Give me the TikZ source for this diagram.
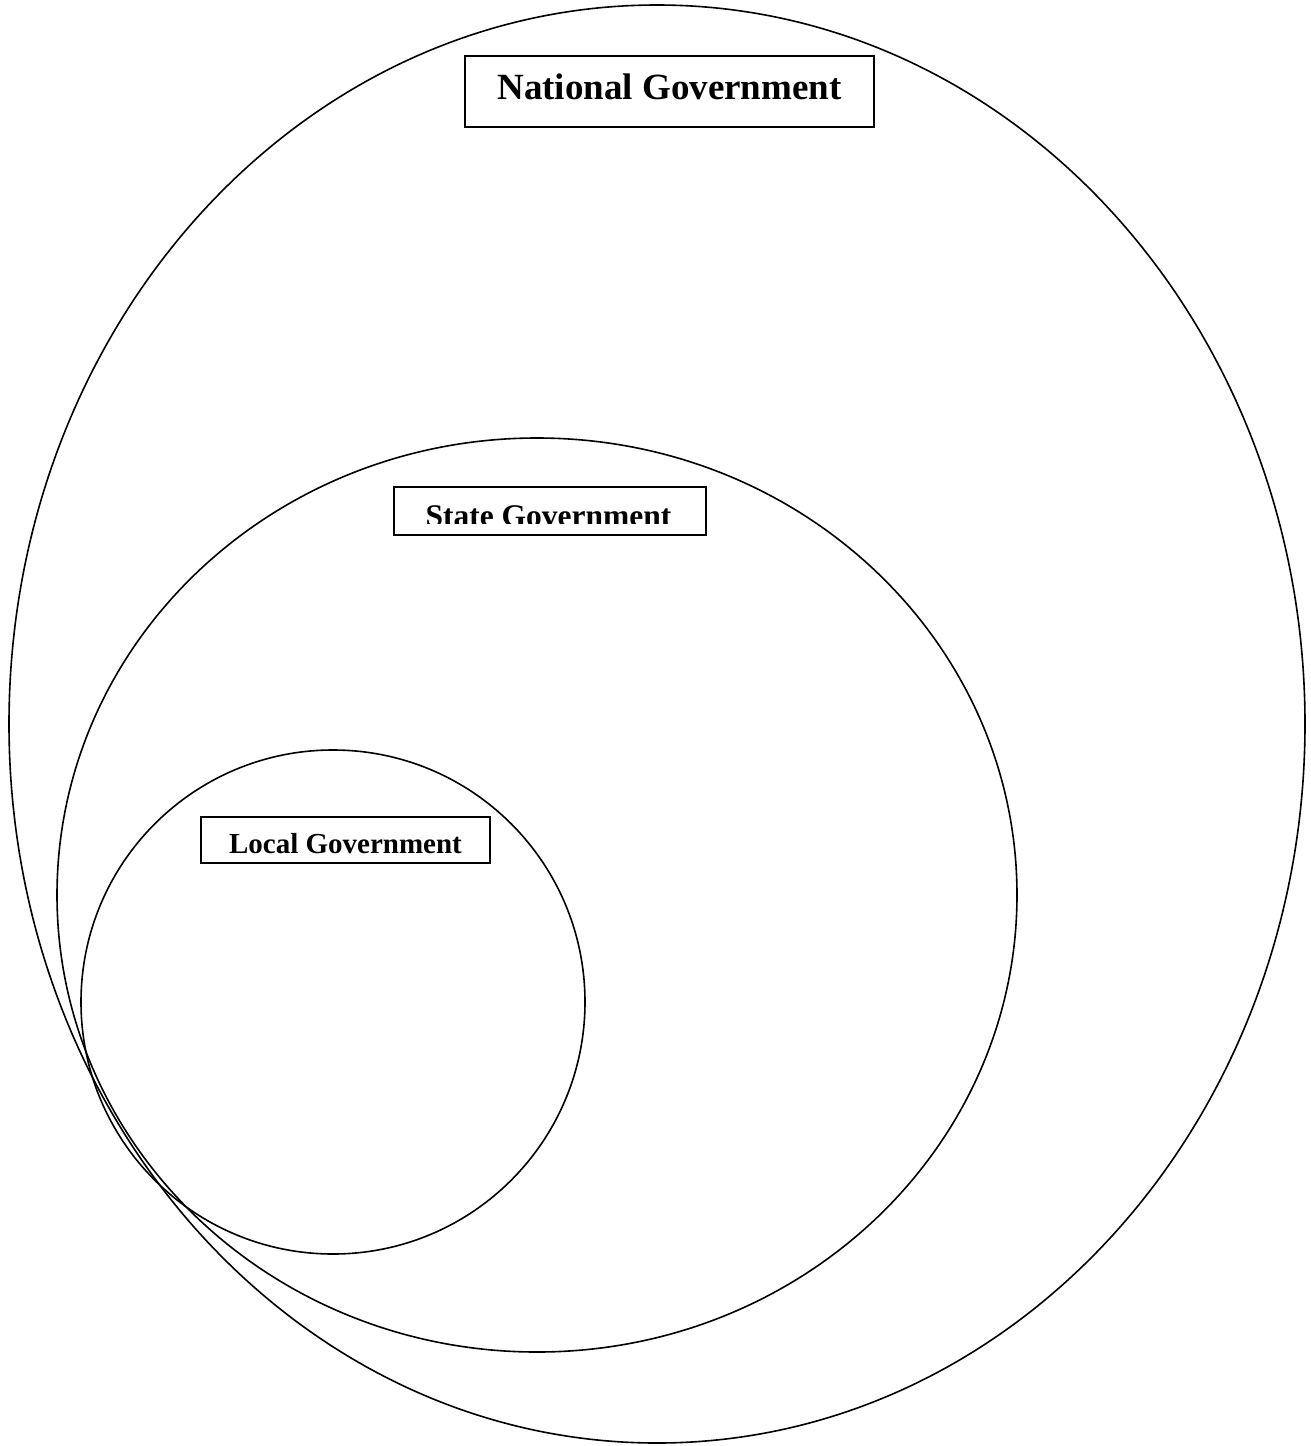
\documentclass[tikz,border=0pt]{standalone}
\usepackage{fontspec}
\setmainfont{Liberation Serif}
\begin{document}
\begin{tikzpicture}[x=1pt,y=-1pt,
  ring/.style={draw=black,line width=1.6pt},
  lbl/.style={draw=black,line width=1.4pt,fill=white,inner sep=0pt,font=\bfseries}]
\useasboundingbox (0,0) rectangle (1310,1446);
\draw[ring] (657,724) ellipse [x radius=648, y radius=719];
\draw[ring] (537,895) ellipse [x radius=480, y radius=457];
\draw[ring] (333,1002) ellipse [x radius=252, y radius=252];
% National
\node[lbl,minimum width=409,minimum height=71] (nat) at (669.5,91.5) {};
\node[font=\bfseries\fontsize{37}{37}\selectfont,anchor=base] (natt) at (669.5,99) {National Government};
% State
\node[lbl,minimum width=312,minimum height=48] (st) at (550,511) {};
\begin{scope}
\clip (395,488) rectangle (705,523.5);
\node[font=\bfseries\fontsize{31.5}{31.5}\selectfont,anchor=base] (stt) at (548.5,526) {State Government};
\end{scope}
% Local
\node[lbl,minimum width=289,minimum height=46] (loc) at (345.5,840) {};
\node[font=\bfseries\fontsize{29}{29}\selectfont,anchor=base] (loct) at (345.5,853) {Local Government};
\end{tikzpicture}
\end{document}
